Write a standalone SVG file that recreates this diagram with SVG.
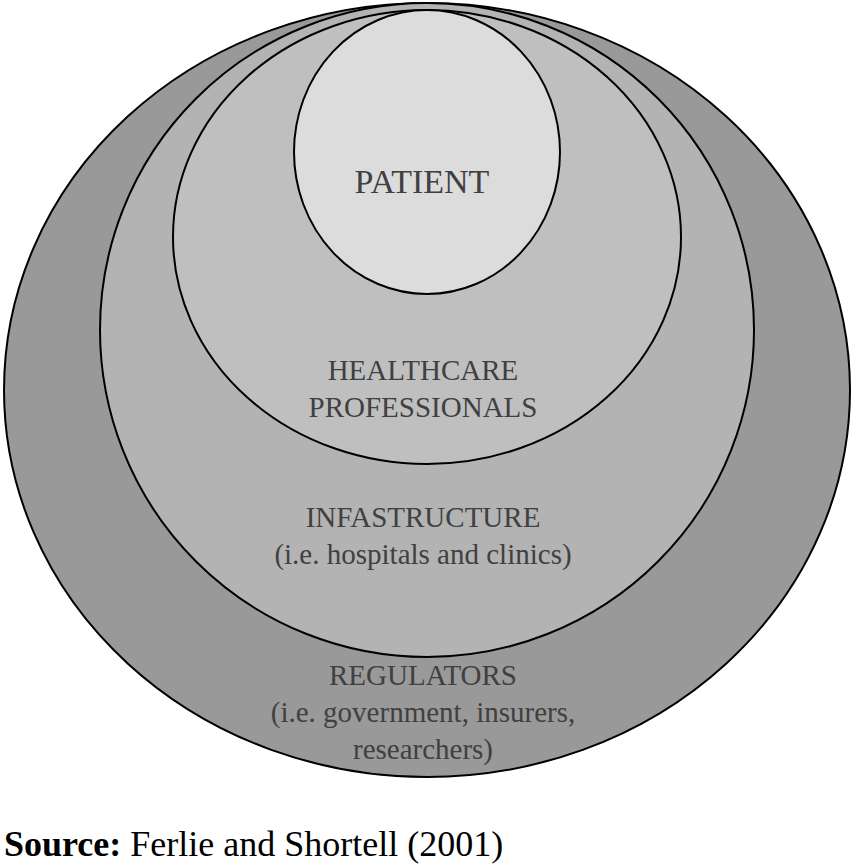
<svg xmlns="http://www.w3.org/2000/svg" width="854" height="867" viewBox="0 0 854 867">
<style>
.e{stroke:#000;stroke-width:2}
.t{font-family:"Liberation Serif",serif;font-size:29px;fill:#404040;text-anchor:middle}
</style>
<rect width="854" height="867" fill="#fff"/>
<g id="regulators"><ellipse class="e" cx="427" cy="390" rx="423" ry="387" fill="#999"/>
<text class="t" x="423" y="685">REGULATORS</text>
<text class="t" x="423" y="722">(i.e. government, insurers,</text>
<text class="t" x="423" y="759">researchers)</text></g>
<g id="infrastructure"><ellipse class="e" cx="427" cy="330" rx="327" ry="327" fill="#b3b3b3"/>
<text class="t" x="423" y="527">INFASTRUCTURE</text>
<text class="t" x="423" y="564">(i.e. hospitals and clinics)</text></g>
<g id="professionals"><ellipse class="e" cx="427" cy="237" rx="254" ry="227" fill="#bfbfbf"/>
<text class="t" x="423" y="380">HEALTHCARE</text>
<text class="t" x="423" y="417">PROFESSIONALS</text></g>
<g id="patient"><ellipse class="e" cx="427" cy="152" rx="133" ry="142" fill="#dcdcdc"/>
<text class="t" x="422" y="193" style="font-size:34px">PATIENT</text></g>
<g id="connectors"/>
<text x="4" y="856" style="font-family:'Liberation Serif',serif;font-size:36px;fill:#000"><tspan font-weight="bold">Source:</tspan> Ferlie and Shortell (2001)</text>
</svg>
